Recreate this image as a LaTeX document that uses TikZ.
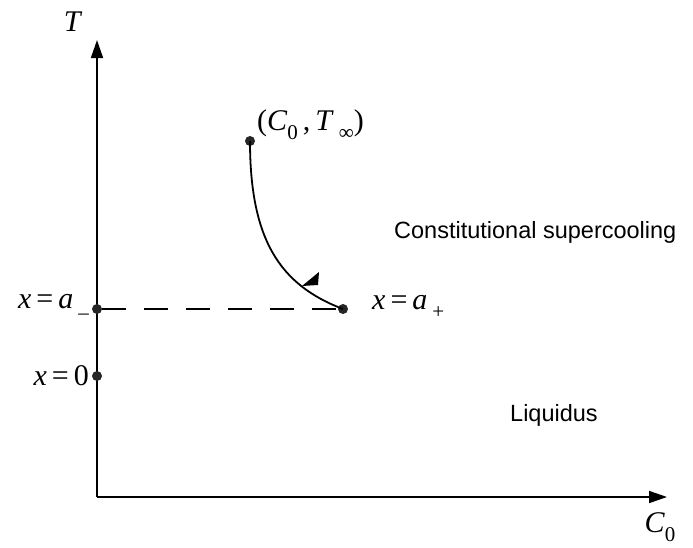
\documentclass[tikz,border=0pt]{standalone}
\usepackage{fontspec}
\setsansfont{Liberation Sans}
\newfontfamily\tms{Liberation Serif}
\usetikzlibrary{arrows.meta}
\newcommand{\vi}[1]{\textit{#1}}
\newcommand{\sbx}[1]{\raisebox{-0.3em}{\fontsize{21}{22}\selectfont #1}}
\begin{document}
\begin{tikzpicture}[x=1pt,y=-1pt,
  axis/.style={line width=1.6pt,-{Triangle[length=18pt,width=12pt]}},
  dot/.style={circle,fill=black!85,inner sep=0pt,minimum size=10pt},
  mlab/.style={inner sep=0pt,font=\tms\fontsize{30}{34}\selectfont},
  tlab/.style={inner sep=0pt,font=\sffamily\fontsize{23.5}{27}\selectfont}]
\useasboundingbox (0,0) rectangle (693,547);
\coordinate (O) at (97,497);
\coordinate (Ytip) at (97,40);
\coordinate (Xtip) at (667,497);
\draw[axis] (O) -- (Ytip);
\draw[axis] (O) -- (Xtip);
\node[mlab] (T) at (73,22) {\vi{T}};
\node[mlab] (C) at (660,527) {\vi{C}\sbx{0}};
\node[dot] (am) at (97,309) {};
\node[dot] (z) at (97,376) {};
\node[dot] (s) at (250,141) {};
\node[dot] (ap) at (343,309) {};
\draw[line width=1.8pt,dash pattern=on 24pt off 18pt] (am) -- (ap);
\draw[line width=1.8pt] (s.center) .. controls (250,240) and (280,285) .. (ap.center);
\fill (319,272) -- (302,286) -- (318,285) -- cycle;
\node[mlab,anchor=west] (sl) at (257,125) {(\vi{C}\sbx{0}\,,\,\vi{T}\,\sbx{∞})};
\node[mlab,anchor=west] (apl) at (372,307) {\vi{x}\,=\,\vi{a}\,\sbx{+}};
\node[mlab,anchor=east] (aml) at (89,307) {\vi{x}\,=\,\vi{a}\,\sbx{\raisebox{-0.1em}{–}}};
\node[mlab,anchor=east] (zl) at (89,376) {\vi{x}\,=\,0};
\node[tlab,anchor=west] (cs) at (394,232) {Constitutional supercooling};
\node[tlab,anchor=west] (lq) at (510,415) {Liquidus};
\end{tikzpicture}
\end{document}
